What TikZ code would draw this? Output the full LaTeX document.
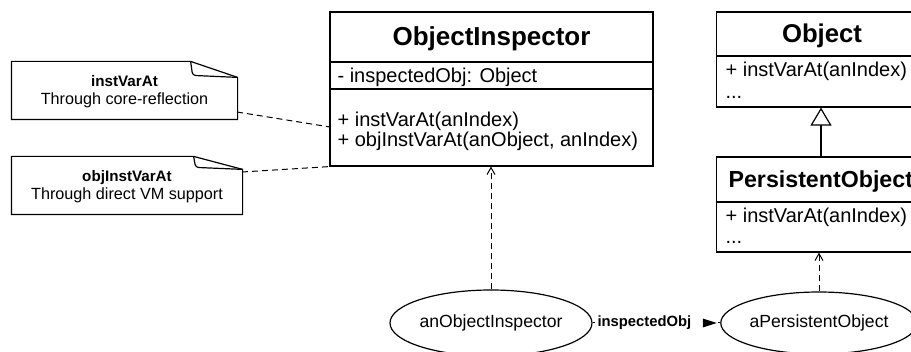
\documentclass[tikz,border=0pt]{standalone}
\usepackage{fontspec}
\setmainfont{Liberation Sans}
\usepackage{tikz}
\usetikzlibrary{arrows.meta,shapes.geometric}

\newcommand{\umltitle}[1]{\fontsize{#1}{#1}\selectfont\bfseries}
\newcommand{\umlmember}{\fontsize{20}{20}\selectfont}
\newcommand{\umlnotehead}{\fontsize{15.2}{16}\selectfont\bfseries}
\newcommand{\umlnote}{\fontsize{16.2}{17}\selectfont}
\newcommand{\umlobj}{\fontsize{17.6}{18}\selectfont}
\newcommand{\umllabel}{\fontsize{14.8}{15}\selectfont\bfseries}

\begin{document}
\begin{tikzpicture}[x=1pt,y=-1pt,line width=1.2pt,
   classbox/.style={draw,rectangle,inner sep=0pt},
   txt/.style={inner sep=0pt,anchor=base west},
   ctxt/.style={inner sep=0pt,anchor=base},
   instance/.style={draw,ellipse,inner sep=0pt,font=\umlobj},
   dashlink/.style={line width=1pt,dash pattern=on 6pt off 4pt},
   realizes/.style={dashlink,-{Straight Barb[length=7pt,width=8pt,line width=1pt]}},
   assoclabel/.style={fill=white,inner xsep=3pt,inner ysep=2pt,font=\umllabel}]
   \fill[white] (0,0) rectangle (911,352);
   \useasboundingbox (0,0) rectangle (911,352);
   \clip (0,0) rectangle (911,352);
   % notes
   \node[inner sep=0pt,minimum width=225pt,minimum height=57pt] (note1) at (124.5,90.5) {};
   \draw (note1.south west) -- (note1.north west) -- ([xshift=-47pt]note1.north east) -- ([yshift=-16pt]note1.north east) -- (note1.south east) -- cycle;
   \draw[rounded corners=3pt] ([xshift=-47pt]note1.north east) -- ([xshift=-45pt,yshift=-14pt]note1.north east) -- ([yshift=-16pt]note1.north east);
   \node[ctxt,font=\umlnotehead] (note1head) at (124.5,87) {instVarAt};
   \node[ctxt,font=\umlnote] (note1body) at (124.5,105) {Through core-reflection};
   \node[inner sep=0pt,minimum width=230pt,minimum height=57pt] (note2) at (127,185.5) {};
   \draw (note2.south west) -- (note2.north west) -- ([xshift=-49pt]note2.north east) -- ([yshift=-13pt]note2.north east) -- (note2.south east) -- cycle;
   \draw[rounded corners=3pt] ([xshift=-49pt]note2.north east) -- ([xshift=-47pt,yshift=-11pt]note2.north east) -- ([yshift=-13pt]note2.north east);
   \node[ctxt,font=\umlnotehead] (note2head) at (127,182) {objInstVarAt};
   \node[ctxt,font=\umlnote] (note2body) at (127,200) {Through direct VM support};
   % classes
   \node[classbox,minimum width=323pt,minimum height=154pt] (inspector) at (491.5,89) {};
   \draw (inspector.west |- 0,62) -- (inspector.east |- 0,62);
   \draw (inspector.west |- 0,89) -- (inspector.east |- 0,89);
   \node[ctxt,font=\umltitle{26}] (inspectortitle) at (491.5,46) {ObjectInspector};
   \node[txt,font=\umlmember] (inspectorattr) at (337,82.5) {- inspectedObj: Object};
   \node[txt,font=\umlmember] (inspectorm1) at (337,126.5) {+ instVarAt(anIndex)};
   \node[txt,font=\umlmember] (inspectorm2) at (337,147) {+ objInstVarAt(anObject, anIndex)};
   \node[classbox,minimum width=209pt,minimum height=95pt] (object) at (821,59.5) {};
   \draw (object.west |- 0,56) -- (object.east |- 0,56);
   \node[ctxt,font=\umltitle{25.7}] (objecttitle) at (822,43) {Object};
   \node[txt,font=\umlmember] (objectm1) at (725,76.5) {+ instVarAt(anIndex)};
   \node[txt,font=\umlmember] (objectm2) at (725,98.5) {...};
   \node[classbox,minimum width=209pt,minimum height=95pt] (persistent) at (821,204.5) {};
   \draw (persistent.west |- 0,202) -- (persistent.east |- 0,202);
   \node[txt,font=\umltitle{23.2}] (persistenttitle) at (728,187.5) {PersistentObject};
   \node[txt,font=\umlmember] (persistentm1) at (725,222.5) {+ instVarAt(anIndex)};
   \node[txt,font=\umlmember] (persistentm2) at (725,244) {...};
   \draw[-{Triangle[open,length=18pt,width=21pt]}] (persistent.north) -- (object.south);
   % note links
   \coordinate (n1out) at (237,112);
   \coordinate (n1in) at (330,127);
   \coordinate (n2out) at (242,172);
   \draw[dashlink] (n1out) -- (n1in);
   \draw[dashlink] (n2out) -- (inspector.south west);
   % instances
   \node[instance,minimum width=202pt,minimum height=66pt] (inspectorobj) at (491,323) {anObjectInspector};
   \node[instance,minimum width=182pt,minimum height=62pt] (persistentobj) at (819,323) {aPersistentObject};
   \draw[realizes] (inspectorobj.north) -- (inspectorobj.north |- inspector.south);
   \draw[realizes] (persistentobj.north) -- (persistentobj.north |- persistent.south);
   \draw[line width=1pt] (inspectorobj) -- node[assoclabel] (assoc) {inspectedObj\kern24pt} (persistentobj);
   \fill ([xshift=-16pt,yshift=4.5pt]assoc.east) -- ++(14,4.5) -- ++(-14,4.5) -- cycle;
\end{tikzpicture}
\end{document}
